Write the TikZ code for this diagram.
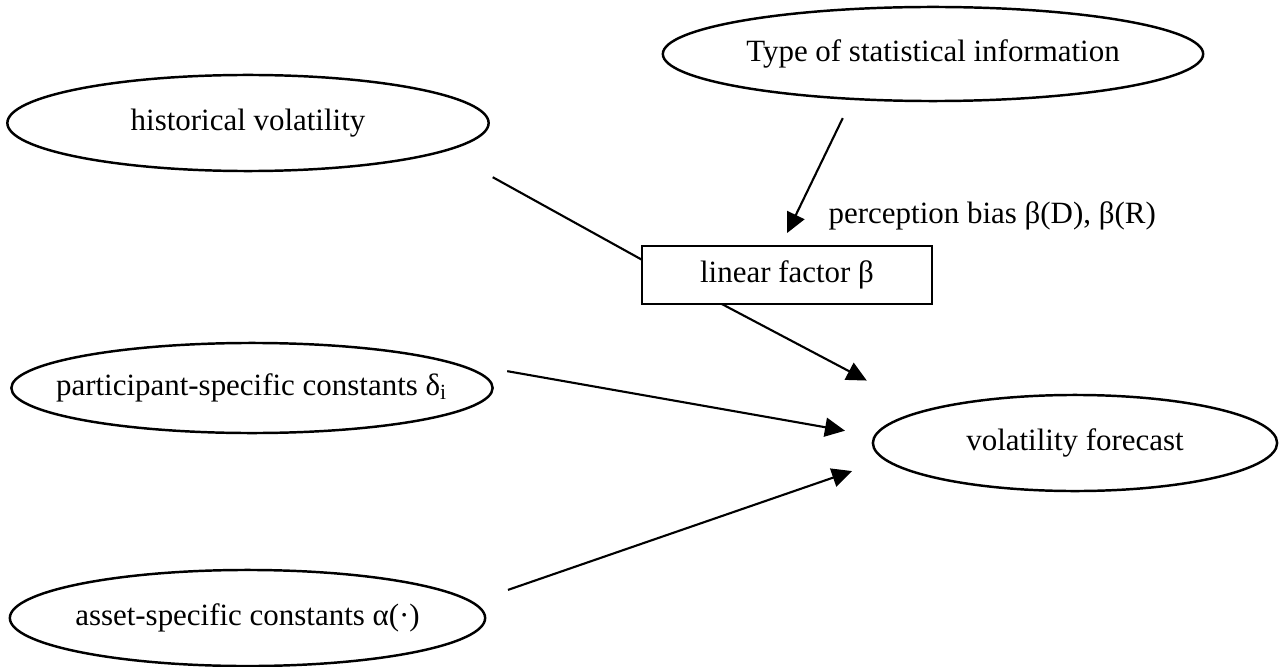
\documentclass[tikz,border=0pt]{standalone}
\usepackage{fontspec}
\setmainfont{Liberation Serif}
\usetikzlibrary{arrows.meta,shapes.geometric}

\begin{document}
\begin{tikzpicture}[
  x=0.01cm, y=-0.01cm,
  font=\fontsize{8.8}{10.5}\selectfont,
  oval/.style={draw, ellipse, line width=0.7pt, inner sep=0pt, outer sep=0pt},
  box/.style={draw, rectangle, line width=0.5pt, inner sep=0pt, outer sep=0pt},
  link/.style={line width=0.6pt},
  arrow/.style={link, -{Triangle[length=0.2cm,width=0.19cm]}}
]
\useasboundingbox (0,0) rectangle (1285,667);

\node[oval, minimum width=5.40cm, minimum height=0.94cm] (info) at (933,54) {Type of statistical information};
\node[oval, minimum width=4.81cm, minimum height=0.96cm] (hist) at (248,123) {historical volatility};
\node[box, minimum width=2.90cm, minimum height=0.58cm] (lin) at (787,275) {linear factor β};
\node[anchor=base west, inner sep=0pt] (bias) at (828,223) {perception bias β(D), β(R)};
\node[oval, minimum width=4.81cm, minimum height=0.90cm] (part) at (252,388) {\makebox[0pt]{participant-specific constants δ\textsubscript{i}}};
\node[oval, minimum width=4.04cm, minimum height=0.96cm] (fc) at (1075,443) {volatility forecast};
\node[oval, minimum width=4.75cm, minimum height=0.96cm] (asset) at (247.5,618) {\makebox[0pt]{asset-specific constants α(·)}};

\draw[link, shorten <=0.548cm] (hist.-8.6) -- (lin.174.9);
\draw[arrow, shorten <=0.213cm, shorten >=0.144cm] (info.-151.3) -- (lin.102.1);
\draw[arrow, shorten >=0.651cm] (lin.204) -- (fc.168.3);
\draw[arrow, shorten <=0.863cm, shorten >=0.305cm] (part.north east) -- (fc.178.1);
\draw[arrow, shorten <=0.38cm, shorten >=0.352cm] (asset.4.5) -- (fc.185.9);
\end{tikzpicture}
\end{document}
